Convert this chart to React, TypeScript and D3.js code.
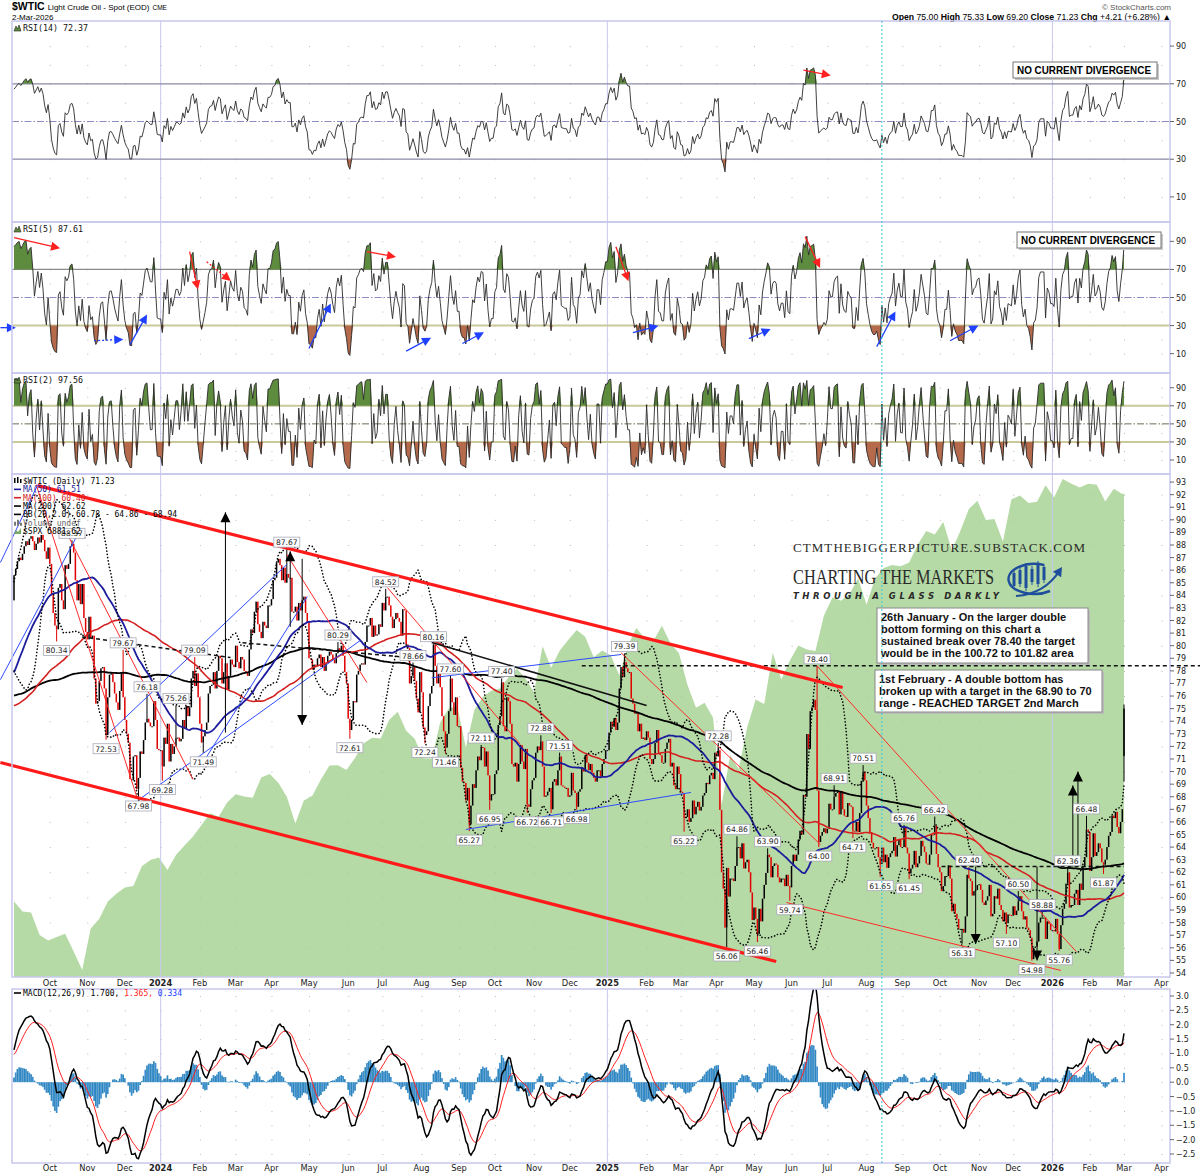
import React from "react";
import * as d3 from "d3";

// ---------------- data ----------------
// 200 sessions before the visible window, only used to warm up MA200 / MACD / RSI
const priorCloses = [
  78.0, 77.2, 78.2, 80.5,
  81.2, 80.0, 76.9, 74.3, 72.0, 72.0, 71.0, 73.2, 75.4, 77.3, 76.1, 74.3, 75.2, 75.2, 78.3, 77.5, 79.6, 79.6, 79.5, 78.4, 78.9, 80.3,
  80.3, 76.9, 72.8, 73.7, 73.8, 74.6, 75.1, 77.4, 78.4, 79.9, 79.9, 80.2, 79.5, 80.6, 81.3, 81.6, 80.1, 80.2, 81.0, 79.7, 77.9, 78.9,
  76.4, 75.9, 73.4, 74.1, 77.1, 78.5, 78.0, 79.7, 80.0, 79.1, 78.6, 78.2, 76.3, 76.3, 76.2, 73.9, 74.0, 76.3, 75.7, 76.4,
  77.0, 78.2, 79.7, 80.5, 77.6, 76.7, 75.7, 76.7, 74.8, 71.3, 67.6, 68.4, 66.7, 67.6, 69.3, 69.9, 70.0, 72.8, 73.2, 73.0, 73.2, 74.4, 75.7,
  80.4, 80.7, 80.6, 80.7, 80.7, 79.7, 81.5, 83.3, 83.0, 82.5, 80.8, 80.9, 79.2, 77.4, 77.9, 77.9, 77.1, 74.3, 74.8, 76.8,
  75.7, 71.7, 68.6, 68.6, 71.3, 73.2, 73.7, 72.6, 72.6, 70.0, 71.1, 70.9, 72.8, 71.9, 71.7, 72.9, 73.9, 72.8, 71.8, 72.7, 72.7, 69.5, 68.1,
  70.1, 71.7, 72.2, 71.7, 72.5, 70.3, 70.2, 67.1, 69.4, 68.3, 70.6, 71.8, 71.8, 71.9, 70.5, 72.5, 69.2, 69.4, 69.4, 67.7, 69.6, 70.6,
  69.8, 69.8, 71.8, 71.8, 73.9, 73.0, 74.8, 75.8, 76.9, 75.4, 74.2, 75.8, 75.4, 75.6, 77.1, 78.7, 79.6, 78.8, 80.1, 80.6, 81.8,
  81.4, 79.5, 81.6, 82.8, 81.9, 80.8, 82.9, 84.4, 82.8, 83.2, 82.5, 81.0, 79.4, 81.3, 80.7, 80.1, 78.9, 79.1, 79.8, 80.0, 81.2, 81.6, 83.6,
];

// daily closes, one per weekday from 1-Sep-2023
const closes2023 = [
  85.6, 86.1, 86.7, 87.0, 86.8, 87.3, 87.9, 88.3, 88.0, 88.5, 88.7, 88.3, 87.6, 88.1, 88.6, 88.2, 88.8, 88.4, 87.5, 86.9, 87.8,
  86.5, 84.0, 82.6, 81.6, 81.3, 84.6, 84.9, 83.6, 82.9, 86.4, 86.1, 86.5, 87.9, 88.1, 87.4, 85.2, 83.6, 84.9, 83.3, 84.9, 82.2, 81.1,
  80.5, 82.3, 80.6, 80.8, 77.4, 75.4, 75.6, 77.2, 78.2, 78.3, 76.6, 72.9, 75.9, 77.7, 77.8, 77.1, 76.2, 75.5, 74.9, 76.4, 77.9, 75.9,
  74.1, 73.0, 72.3, 69.4, 69.3, 71.2, 71.3, 68.6, 69.5, 71.6, 71.4, 72.5, 73.9, 74.2, 73.9, 73.6, 73.6, 75.6, 74.1, 71.8, 71.7,
];
const closes2024 = [
  71.7, 70.4, 72.7, 72.2, 73.8, 70.8, 72.2, 71.4, 72.0, 72.7, 72.7, 72.4, 72.6, 74.1, 73.4, 75.2, 74.4, 75.1, 77.4, 78.0, 76.8, 77.8, 75.9,
  73.8, 72.3, 72.8, 73.3, 73.9, 76.2, 76.8, 76.9, 77.9, 76.6, 78.0, 79.2, 79.0, 77.0, 77.9, 78.6, 76.5, 77.6, 78.9, 78.5, 78.3,
  80.0, 78.7, 78.2, 79.1, 78.9, 78.0, 77.9, 77.6, 79.7, 81.3, 81.0, 82.7, 83.5, 81.7, 81.1, 80.6, 81.9, 81.6, 81.4, 83.2, 83.2,
  83.7, 85.2, 85.4, 86.6, 86.9, 86.4, 85.2, 86.2, 85.0, 85.7, 85.4, 85.4, 82.7, 82.7, 83.1, 82.0, 83.4, 82.8, 83.6, 83.9, 82.6, 81.9,
  79.0, 78.9, 78.1, 78.5, 78.4, 79.0, 79.3, 78.3, 79.1, 78.0, 78.6, 79.2, 79.5, 79.3, 78.9, 78.6, 79.4, 79.8, 79.6, 80.0, 79.2, 77.9, 77.0,
  74.2, 73.3, 74.1, 75.6, 75.5, 77.7, 78.0, 78.5, 78.6, 78.5, 80.3, 81.6, 81.6, 82.2, 80.7, 81.6, 80.8, 80.9, 81.7, 81.5,
  83.4, 82.8, 83.9, 83.9, 83.2, 82.3, 81.4, 82.1, 82.6, 82.2, 81.9, 80.8, 82.9, 82.8, 80.1, 79.8, 77.0, 77.6, 78.3, 77.2, 75.8, 74.7, 77.9,
  76.3, 73.5, 72.9, 73.2, 75.2, 76.2, 76.8, 80.1, 78.4, 77.0, 78.2, 76.7, 74.4, 73.2, 71.9, 73.0, 74.8, 77.4, 75.5, 74.5, 75.9, 73.6,
  73.6, 70.3, 69.2, 69.1, 67.7, 68.7, 65.8, 67.3, 69.0, 68.7, 70.1, 71.2, 70.9, 71.95, 71.9, 70.4, 71.6, 69.7, 67.7, 68.2, 68.2,
  69.8, 70.1, 73.7, 74.4, 77.1, 73.6, 73.2, 75.9, 75.6, 73.8, 70.6, 70.4, 70.7, 69.2, 70.6, 72.1, 70.8, 70.2, 71.8, 67.4, 67.2, 68.6, 69.3,
  69.5, 71.5, 72.0, 71.7, 72.4, 70.4, 68.0, 68.1, 68.4, 68.7, 67.0, 69.2, 69.4, 68.9, 70.1, 71.2, 68.9, 68.8, 68.7, 68.7, 68.0,
  68.1, 69.9, 68.5, 68.3, 67.2, 68.4, 68.6, 70.3, 70.0, 71.3, 70.7, 70.1, 70.6, 69.9, 69.5, 69.2, 70.1, 70.1, 69.6, 70.6, 71.0, 71.7,
];
const closes2025 = [
  71.7, 73.1, 73.96, 73.56, 74.25, 73.3, 73.9, 76.6, 78.3, 77.5, 78.7, 78.2, 77.9, 77.9, 75.8, 75.4, 74.6, 74.7, 73.2, 73.8, 72.6, 72.7, 72.5,
  73.2, 72.7, 71.0, 70.6, 71.0, 72.3, 73.3, 71.4, 71.3, 70.7, 70.7, 71.8, 72.3, 72.6, 70.4, 70.7, 68.9, 68.6, 70.4, 69.8,
  68.4, 68.3, 66.3, 66.4, 67.0, 66.0, 66.3, 67.7, 66.6, 67.2, 67.6, 66.9, 67.2, 68.1, 68.3, 69.1, 69.0, 69.7, 69.9, 69.4, 71.5,
  71.2, 71.7, 66.95, 62.0, 60.7, 57.6, 62.35, 60.07, 61.5, 61.5, 61.3, 62.5, 64.0, 64.0, 63.1, 64.3, 62.3, 62.8, 63.0, 62.0, 60.4, 58.2,
  59.2, 58.3, 57.1, 59.1, 58.1, 59.9, 61.0, 61.95, 63.4, 63.2, 61.6, 62.5, 62.7, 62.6, 61.6, 61.2, 61.5, 61.5, 60.9, 61.8, 60.9, 60.8,
  62.5, 63.4, 62.9, 63.4, 64.6, 65.3, 65.0, 68.15, 68.0, 72.98, 71.8, 74.8, 75.1, 75.7, 74.9, 68.5, 64.4, 64.9, 65.2, 65.5, 65.1,
  65.45, 67.45, 67.0, 67.0, 68.0, 68.3, 68.4, 66.6, 68.45, 67.0, 66.5, 66.4, 67.5, 67.3, 67.2, 65.3, 65.25, 66.0, 65.2, 66.7, 69.2, 70.0, 69.3,
  67.3, 66.3, 65.2, 64.35, 63.9, 63.9, 64.0, 63.2, 62.65, 63.96, 62.8, 63.4, 62.35, 63.2, 63.5, 63.7, 64.8, 63.25, 64.15, 64.6, 64.0,
  64.0, 65.6, 63.97, 63.5, 61.9, 62.3, 62.6, 63.7, 62.4, 62.7, 63.3, 64.5, 64.05, 63.6, 62.7, 62.6, 63.4, 64.99, 64.98, 65.7, 63.45, 62.4,
  62.0, 60.5, 60.9, 61.7, 61.7, 62.55, 61.5, 58.9, 59.5, 58.7, 58.3, 57.5, 57.5, 57.5, 57.2, 58.5, 61.8, 61.5, 61.3, 60.15, 60.5, 60.6, 60.98,
  61.05, 60.6, 59.6, 59.4, 59.75, 60.1, 61.0, 58.5, 58.7, 60.1, 59.9, 60.7, 59.4, 59.0, 58.1, 58.8, 57.95, 58.65, 58.6, 58.55,
  59.3, 58.6, 58.95, 59.7, 60.1, 58.9, 58.25, 58.5, 57.6, 57.4, 56.8, 55.1, 56.0, 56.1, 56.5, 58.0, 58.4, 58.4, 58.4, 56.7, 58.1, 57.9, 57.4,
];
const closes2026 = [
  57.4, 57.3, 58.3, 57.1, 55.9, 57.8, 59.1, 59.5, 61.1, 62.0, 59.2, 59.4, 59.4, 60.3, 60.6, 59.4, 61.1, 60.6, 62.4, 63.2, 65.4, 65.2,
  62.1, 63.2, 65.1, 63.3, 63.6, 64.3, 63.9, 62.8, 62.6, 63.0, 64.0, 64.9, 65.2, 66.5, 66.3, 66.8, 65.6, 65.1, 66.0, 67.02,
  71.23,
];
const lastBar = { open: 75.0, high: 75.33, low: 69.2, close: 71.23 };

// S&P 500 overlay, weekly (Fridays) from 1-Sep-2023, then 2-Mar-2026
const spxWeekly = [
  4515, 4457, 4450, 4320, 4288, 4308, 4327, 4224, 4117, 4358, 4415, 4514, 4559, 4595, 4604, 4719, 4755, 4770,
  4697, 4784, 4840, 4891, 4959, 5027, 5006, 5089, 5137, 5124, 5117, 5234, 5254, 5204, 5123, 4967, 5100, 5128, 5223, 5303, 5305, 5278,
  5347, 5431, 5465, 5460, 5567, 5615, 5505, 5459, 5346, 5344, 5554, 5634, 5648, 5408, 5626, 5703, 5738, 5751, 5815, 5865, 5808, 5729,
  5996, 5871, 5969, 6032, 6090, 6051, 5931, 5971,
  5942, 5827, 5997, 6101, 6041, 6026, 6115, 6013, 5955, 5770, 5639, 5667, 5581, 5074, 5363, 5283, 5525, 5687, 5660, 5958, 5803, 5912,
  6000, 5977, 5968, 6173, 6279, 6260, 6297, 6389, 6238, 6389, 6450, 6467, 6460, 6482, 6584, 6664, 6644, 6716, 6553, 6664, 6792, 6840,
  6728, 6734, 6603, 6849, 6870, 6827, 6834, 6930,
  6858, 6966, 6940, 6916, 6939, 6932, 6836, 6909, 6879,
];
const spxLast = 6881.62;

// swing labels (intraday extremes)
const highLabels: [string, number][] = [
  ["2023-10-19", 88.37], ["2023-11-30", 79.67], ["2023-12-20", 76.18], ["2024-01-12", 75.26], ["2024-01-29", 79.09],
  ["2024-04-12", 87.67], ["2024-05-24", 80.29], ["2024-07-03", 84.52], ["2024-07-25", 78.66], ["2024-08-12", 80.16],
  ["2024-08-26", 77.6], ["2024-09-19", 72.11], ["2024-10-07", 77.4], ["2024-11-07", 72.88], ["2024-11-22", 71.51],
  ["2025-01-15", 79.39], ["2025-04-02", 72.28], ["2025-04-17", 64.86], ["2025-05-13", 63.9], ["2025-06-23", 78.4],
  ["2025-07-07", 68.91], ["2025-07-30", 70.51], ["2025-09-02", 65.76], ["2025-09-26", 66.42], ["2025-10-24", 62.4],
  ["2025-12-04", 60.5], ["2025-12-24", 58.88], ["2026-01-14", 62.36], ["2026-01-29", 66.48],
];
const lowLabels: [string, number][] = [
  ["2023-10-06", 80.34], ["2023-11-16", 72.53], ["2023-12-13", 67.98], ["2024-01-02", 69.28], ["2024-02-05", 71.49],
  ["2024-06-04", 72.61], ["2024-08-05", 72.24], ["2024-08-21", 71.46], ["2024-09-10", 65.27], ["2024-09-26", 66.95],
  ["2024-10-28", 66.72], ["2024-11-15", 66.71], ["2024-12-06", 66.98], ["2025-03-05", 65.22], ["2025-04-09", 56.06],
  ["2025-05-05", 56.46], ["2025-05-30", 59.74], ["2025-06-24", 64.0], ["2025-07-22", 64.71], ["2025-08-13", 61.65],
  ["2025-09-05", 61.45], ["2025-10-20", 56.31], ["2025-11-25", 57.1], ["2025-12-16", 54.98], ["2026-01-07", 55.76],
  ["2026-02-12", 61.87],
];

type Pt = [string, number];
const redThickLines: [Pt, Pt][] = [
  [["2023-09-21", 92.72], ["2025-07-14", 76.68]],
  [["2023-08-22", 70.72], ["2025-05-20", 54.91]],
];
const redThinLines: [Pt, Pt][] = [
  [["2023-09-20", 92.8], ["2023-12-12", 68.0]],
  [["2023-10-17", 88.67], ["2024-01-26", 69.37]],
  [["2024-04-12", 87.24], ["2024-06-18", 77.07]],
  [["2024-07-04", 84.62], ["2024-10-22", 72.15]],
  [["2025-01-13", 79.44], ["2025-06-25", 64.2]],
  [["2025-06-23", 78.4], ["2026-01-21", 55.7]],
  [["2025-05-28", 59.6], ["2026-01-08", 54.2]],
];
const blueThinLines: [Pt, Pt][] = [
  [["2023-08-22", 86.6], ["2023-09-21", 92.8]],
  [["2023-08-22", 77.3], ["2023-10-25", 89.0]],
  [["2023-11-20", 73.1], ["2024-04-12", 86.45]],
  [["2023-12-15", 67.94], ["2024-06-12", 80.41]],
  [["2024-02-06", 70.96], ["2024-04-30", 83.9]],
  [["2024-08-09", 77.45], ["2025-01-13", 79.3]],
  [["2024-09-06", 65.4], ["2025-03-11", 68.34]],
];
const blackSolidLines: [Pt, Pt][] = [[["2024-08-09", 80.25], ["2025-02-03", 75.25]]];
const blackDashedLines: [Pt, Pt][] = [
  [["2023-10-27", 80.7], ["2024-02-27", 79.06]],
  [["2024-03-07", 80.24], ["2024-07-15", 79.13]],
  [["2024-12-11", 78.4], ["2026-05-04", 78.4]],
  [["2025-10-02", 62.45], ["2026-03-02", 62.45]],
];
// vertical measuring arrows: date, from price, to price (head at "to")
const priceArrows: [string, number, number][] = [
  ["2024-02-22", 73.1, 90.6], ["2024-04-16", 81.5, 87.5], ["2024-04-25", 86.9, 73.7],
  ["2025-10-30", 62.45, 56.3], ["2025-12-19", 62.45, 55.0], ["2026-01-19", 62.45, 68.9], ["2026-01-22", 62.45, 70.0],
];
type Div = { a: Pt; b: Pt; c: string; dot?: boolean };
const rsi14Divs: Div[] = [{ a: ["2025-06-11", 77.2], b: ["2025-06-27", 75.1], c: "red" }];
const rsi5Divs: Div[] = [
  { a: ["2023-09-01", 92.6], b: ["2023-10-04", 86.2], c: "red" },
  { a: ["2023-08-22", 28.5], b: ["2023-08-29", 28.5], c: "blue" },
  { a: ["2023-11-07", 19.2], b: ["2023-11-24", 19.9], c: "blue", dot: true },
  { a: ["2023-12-06", 16.4], b: ["2023-12-18", 33.5], c: "blue" },
  { a: ["2024-01-24", 82.7], b: ["2024-01-30", 60.6], c: "red" },
  { a: ["2024-02-07", 75.5], b: ["2024-02-22", 64.9], c: "red", dot: true },
  { a: ["2024-05-01", 13.6], b: ["2024-05-16", 41.3], c: "blue" },
  { a: ["2024-06-18", 82.7], b: ["2024-07-05", 79.8], c: "red" },
  { a: ["2024-07-19", 11.8], b: ["2024-08-05", 18.9], c: "blue" },
  { a: ["2024-09-04", 17.2], b: ["2024-09-17", 22.9], c: "blue" },
  { a: ["2025-01-08", 86.2], b: ["2025-01-16", 66.3], c: "red" },
  { a: ["2025-01-22", 25.0], b: ["2025-02-06", 28.6], c: "blue" },
  { a: ["2025-04-28", 20.7], b: ["2025-05-09", 25.6], c: "blue" },
  { a: ["2025-06-12", 93.4], b: ["2025-06-23", 75.6], c: "red" },
  { a: ["2025-08-11", 15.0], b: ["2025-08-22", 35.7], c: "blue" },
  { a: ["2025-10-09", 19.2], b: ["2025-10-28", 27.7], c: "blue" },
];

const mainLegend = [
  { text: "$WTIC (Daily) 71.23", color: "#000", icon: "candle" },
  { text: "MA(50) 61.51", color: "#1c1c9c", icon: "line" },
  { text: "MA(100) 60.40", color: "#d42020", icon: "line" },
  { text: "MA(200) 62.62", color: "#000", icon: "line" },
  { text: "BB(20,2.0) 60.78 - 64.86 - 68.94", color: "#000", icon: "line" },
  { text: "Volume undef", color: "#666", icon: "bars" },
  { text: "$SPX 6881.62", color: "#000", icon: "area" },
];
const note1 = [
  "26th January - On the larger double",
  "bottom forming on this chart a",
  "sustained break over 78.40 the target",
  "would be in the 100.72 to 101.82 area",
];
const note2 = [
  "1st February - A double bottom has",
  "broken up with a target in the 68.90 to 70",
  "range - REACHED TARGET 2nd March",
];
const markerDate = "2025-08-14";
const monthNames = ["Jan", "Feb", "Mar", "Apr", "May", "Jun", "Jul", "Aug", "Sep", "Oct", "Nov", "Dec"];

// ---------------- helpers ----------------
const DAY = 86400000;
const START_MS = Date.UTC(2023, 8, 1);
const offCache: Record<string, number> = {};
function weekdayOffset(s: string): number {
  if (offCache[s] !== undefined) return offCache[s];
  const t = Date.parse(s + "T00:00:00Z");
  const step = t >= START_MS ? 1 : -1;
  let n = 0;
  for (let c = START_MS; c !== t; ) {
    c += step * DAY;
    const wd = new Date(c).getUTCDay();
    if (wd !== 0 && wd !== 6) n += step;
  }
  offCache[s] = n;
  return n;
}
function sma(a: number[], n: number) {
  return a.map((_, i) => (i < n - 1 ? null : (d3.mean(a.slice(i - n + 1, i + 1)) as number)));
}
function ema(a: number[], n: number) {
  const k = 2 / (n + 1);
  let e = a[0];
  return a.map((v, i) => (e = i === 0 ? v : v * k + e * (1 - k)));
}
function rsi(a: number[], n: number) {
  const out: (number | null)[] = a.map(() => null);
  let g = 0, l = 0;
  for (let i = 1; i <= n; i++) {
    const d = a[i] - a[i - 1];
    if (d > 0) g += d; else l -= d;
  }
  g /= n; l /= n;
  out[n] = l === 0 ? 100 : 100 - 100 / (1 + g / l);
  for (let i = n + 1; i < a.length; i++) {
    const d = a[i] - a[i - 1];
    g = (g * (n - 1) + Math.max(d, 0)) / n;
    l = (l * (n - 1) + Math.max(-d, 0)) / n;
    out[i] = l === 0 ? 100 : 100 - 100 / (1 + g / l);
  }
  return out;
}
function head(x1: number, y1: number, x2: number, y2: number, len = 8, half = 4) {
  const a = Math.atan2(y2 - y1, x2 - x1);
  const bx = x2 - len * Math.cos(a), by = y2 - len * Math.sin(a);
  const px = -Math.sin(a) * half, py = Math.cos(a) * half;
  return `${x2},${y2} ${bx + px},${by + py} ${bx - px},${by - py}`;
}

const FRAME = "#c8c8ee";
const GRID = "#b9b9b9";
const AX = "DejaVu Sans, Verdana, sans-serif";
const MONO = "DejaVu Sans Mono, monospace";
const ARIAL = "Liberation Sans, Arial, sans-serif";

export default function App() {
  const all = [...priorCloses, ...closes2023, ...closes2024, ...closes2025, ...closes2026];
  const P = priorCloses.length;
  const close = all.slice(P);
  const N = close.length;
  const idx = d3.range(N);
  const x = d3.scaleLinear().domain([0, N - 1]).range([14, 1124]);
  const xd = (s: string) => x(weekdayOffset(s));

  const yMain = d3.scaleLinear().domain([53.68, 93.64]).range([977, 474]);
  const yR14 = d3.scaleLinear().domain([-3.3, 103.3]).range([222, 21]);
  const yR5 = d3.scaleLinear().domain([-3.8, 103.8]).range([373, 222]);
  const yR2 = d3.scaleLinear().domain([-5.5, 106.3]).range([474, 373]);
  const yM = d3.scaleLinear().domain([-2.813, 3.244]).range([1163, 989]);

  const spxPts: [number, number][] = [...spxWeekly.map((v, k) => [k * 5, v] as [number, number]), [N - 1, spxLast]];
  const ySpx = d3.scaleLinear().domain(d3.extent(spxPts, (d) => d[1]) as [number, number]).range([970, 479]);

  // indicators
  const ma50 = sma(all, 50).slice(P);
  const ma100 = sma(all, 100).slice(P);
  const ma200 = sma(all, 200).slice(P);
  const bbU: (number | null)[] = [], bbL: (number | null)[] = [];
  all.forEach((_, i) => {
    if (i < 19) { bbU.push(null); bbL.push(null); return; }
    const w = all.slice(i - 19, i + 1);
    const m = d3.mean(w) as number;
    const sd = Math.sqrt(d3.mean(w, (v) => (v - m) ** 2) as number);
    bbU.push(m + 2 * sd); bbL.push(m - 2 * sd);
  });
  const bbUp = bbU.slice(P), bbLo = bbL.slice(P);
  const e12 = ema(all, 12), e26 = ema(all, 26);
  const macdAll = all.map((_, i) => e12[i] - e26[i]);
  const sigAll = ema(macdAll, 9);
  const macd = macdAll.slice(P), sig = sigAll.slice(P);
  const hist = macd.map((m, i) => m - sig[i]);
  const r14 = rsi(all, 14).slice(P), r5 = rsi(all, 5).slice(P), r2 = rsi(all, 2).slice(P);

  const lineOf = (y: any) =>
    d3.line<number | null>().defined((v) => v != null).x((_, i) => x(i)).y((v) => y(v as number));

  // month ticks
  const months: { s: string; label: string; year: boolean }[] = [];
  for (let k = 0; k < 31; k++) {
    const yr = 2023 + Math.floor((9 + k) / 12), m = (9 + k) % 12;
    let d = new Date(Date.UTC(yr, m, 1));
    while (d.getUTCDay() === 0 || d.getUTCDay() === 6) d = new Date(d.getTime() + DAY);
    months.push({ s: d.toISOString().slice(0, 10), label: m === 0 ? String(yr) : monthNames[m], year: m === 0 });
  }
  const inPlot = months.filter((m) => xd(m.s) < 1168);
  const yearXs = ["2024-01-01", "2025-01-01", "2026-01-01"].map(xd);
  const markerX = xd(markerDate);

  const dots = (levels: number[], y: any, key: string) =>
    inPlot.flatMap((m) => levels.map((lv) => <rect key={key + m.s + lv} x={xd(m.s)} y={y(lv)} width={1} height={1} fill={GRID} />));

  const rightAxis = (ticks: number[], y: any, fmt: (v: number) => string, key: string) =>
    ticks.map((t) => (
      <g key={key + t}>
        <line x1={1170} x2={1174} y1={y(t)} y2={y(t)} stroke="#666" />
        <text x={1176} y={y(t) + 3} fontSize={8} fontFamily={AX} fill="#222">{fmt(t)}</text>
      </g>
    ));

  const rsiPanel = (
    key: string, vals: (number | null)[], y: any, top: number, bottom: number, title: string,
    c70: string, c30: string, c50: string, w3070: number, divs: Div[]
  ) => {
    const aUp = d3.area<number | null>().defined((v) => v != null).x((_, i) => x(i)).y0(y(70)).y1((v) => y(Math.max(v as number, 70)));
    const aDn = d3.area<number | null>().defined((v) => v != null).x((_, i) => x(i)).y0(y(30)).y1((v) => y(Math.min(v as number, 30)));
    return (
      <g key={key}>
        {dots([10, 20, 30, 40, 50, 60, 70, 80, 90], y, key)}
        {yearXs.map((yx) => <line key={key + yx} x1={yx} x2={yx} y1={top} y2={bottom} stroke={FRAME} />)}
        <line x1={12} x2={1170} y1={y(70)} y2={y(70)} stroke={c70} strokeWidth={w3070} />
        <line x1={12} x2={1170} y1={y(30)} y2={y(30)} stroke={c30} strokeWidth={w3070 + (c30 === c70 ? 0 : 0.8)} />
        <line x1={12} x2={1170} y1={y(50)} y2={y(50)} stroke={c50} strokeDasharray="7,2,1.5,2" />
        <path d={aUp(vals) || ""} fill="#5e8c3e" />
        <path d={aDn(vals) || ""} fill="#b46a4b" />
        <path d={lineOf(y)(vals) || ""} fill="none" stroke="#2a2a2a" strokeWidth={0.9} />
        {divs.map((dv, i) => {
          const x1 = xd(dv.a[0]), y1 = y(dv.a[1]), x2 = xd(dv.b[0]), y2 = y(dv.b[1]);
          const col = dv.c === "red" ? "#ff2020" : "#2040ff";
          const a = Math.atan2(y2 - y1, x2 - x1);
          const tx = x2 + 7 * Math.cos(a), ty = y2 + 7 * Math.sin(a);
          return (
            <g key={key + "d" + i}>
              <line x1={x1} y1={y1} x2={x2} y2={y2} stroke={col} strokeWidth={1.3} strokeDasharray={dv.dot ? "2,2" : undefined} />
              <polygon points={head(x2, y2, tx, ty, 9, 4.5)} fill={col} />
            </g>
          );
        })}
        <rect x={12} y={top} width={1158} height={bottom - top} fill="none" stroke={FRAME} strokeWidth={1.5} />
        <g transform={`translate(14,${top + 3})`}>
          <path d="M0,7 L2,2 L3.5,5 L5,1 L7,7 Z" fill="#5e8c3e" stroke="#222" strokeWidth={0.6} />
        </g>
        <text x={23} y={top + 9.5} fontSize={8.3} fontFamily={MONO} fill="#111">{title}</text>
        {rightAxis([10, 30, 50, 70, 90], y, (v) => String(v), key + "ax")}
      </g>
    );
  };

  // candles
  const candleEls = idx.map((i) => {
    const isLast = i === N - 1;
    const o = isLast ? lastBar.open : i === 0 ? all[P - 1] : close[i - 1];
    const c = close[i];
    const prev = i === 0 ? all[P - 1] : close[i - 1];
    const col = c >= prev ? "#000" : "#e00000";
    const y1 = yMain(Math.max(o, c)), y2 = yMain(Math.min(o, c));
    return (
      <g key={"c" + i}>
        {isLast && <line x1={x(i)} x2={x(i)} y1={yMain(lastBar.high)} y2={yMain(lastBar.low)} stroke={col} />}
        <rect x={x(i) - 0.75} y={y1} width={1.5} height={Math.max(1, y2 - y1)} fill={col} />
      </g>
    );
  });
  const wick = (d: string, v: number, key: string) => {
    const i = weekdayOffset(d);
    const o = i === 0 ? all[P - 1] : close[i - 1];
    const c = close[i];
    const col = c >= o ? "#000" : "#e00000";
    const edge = v > c ? Math.max(o, c) : Math.min(o, c);
    return <line key={key} x1={x(i)} x2={x(i)} y1={yMain(v)} y2={yMain(edge)} stroke={col} strokeWidth={1} />;
  };
  const labelBox = (d: string, v: number, above: boolean, key: string) => {
    const cx = xd(d), cy = yMain(v) + (above ? -7 : 9);
    const t = v.toFixed(2);
    const w = t.length * 4.6 + 3;
    return (
      <g key={key}>
        <rect x={cx - w / 2} y={cy - 5} width={w} height={10} fill="#fff" stroke="#a9a9b9" strokeWidth={0.8} />
        <text x={cx} y={cy + 3} textAnchor="middle" fontSize={7.6} fontFamily={AX} fill="#222">{t}</text>
      </g>
    );
  };
  const seg = (l: [Pt, Pt], key: string, stroke: string, w: number, dash?: string) => (
    <line key={key} x1={xd(l[0][0])} y1={yMain(l[0][1])} x2={xd(l[1][0])} y2={yMain(l[1][1])} stroke={stroke} strokeWidth={w} strokeDasharray={dash} />
  );

  const spxArea = d3.area<[number, number]>().x((d) => x(d[0])).y0(977).y1((d) => ySpx(d[1]));
  const prevClose = close[N - 2];
  const chg = lastBar.close - prevClose;

  const xLabels = (yy: number, key: string) =>
    months.map((m) => (
      <text key={key + m.s} x={xd(m.s)} y={yy} textAnchor="middle" fontSize={8.3} fontWeight={m.year ? "bold" : "normal"} fontFamily={AX} fill="#222">
        {m.label}
      </text>
    ));

  return (
    <svg width={1200} height={1175} style={{ position: "absolute", left: 0, top: 0, background: "#fff" }} xmlns="http://www.w3.org/2000/svg">
      <defs>
        <clipPath id="mainClip"><rect x={12} y={474} width={1158} height={503} /></clipPath>
        <clipPath id="macdClip"><rect x={12} y={989} width={1158} height={174} /></clipPath>
      </defs>
      <rect width={1200} height={1175} fill="#fff" />

      {/* header */}
      <text x={12} y={10} fontFamily={ARIAL} fontSize={8} fill="#000">
        <tspan fontWeight="bold" fontSize={10.5}>$WTIC</tspan>
        <tspan dx={3}>Light Crude Oil - Spot (EOD)</tspan>
        <tspan dx={3} fontSize={6.5}>CME</tspan>
      </text>
      <text x={12} y={19.5} fontFamily={ARIAL} fontSize={8}>2-Mar-2026</text>
      <text x={1171} y={10} textAnchor="end" fontFamily={ARIAL} fontSize={8} fill="#555">© StockCharts.com</text>
      <text x={1171} y={19.5} textAnchor="end" fontFamily={ARIAL} fontSize={8.7} fill="#000">
        <tspan fontWeight="bold">Open</tspan>{` ${lastBar.open.toFixed(2)}  `}
        <tspan fontWeight="bold">High</tspan>{` ${lastBar.high.toFixed(2)}  `}
        <tspan fontWeight="bold">Low</tspan>{` ${lastBar.low.toFixed(2)}  `}
        <tspan fontWeight="bold">Close</tspan>{` ${lastBar.close.toFixed(2)}  `}
        <tspan fontWeight="bold">Chg</tspan>{` +${chg.toFixed(2)} (+${((chg / prevClose) * 100).toFixed(2)}%) ▲`}
      </text>

      {rsiPanel("r14", r14, yR14, 21, 222, "RSI(14) 72.37", "#8a8aa6", "#8a8aa6", "#8c8cc0", 1.2, rsi14Divs)}
      {rsiPanel("r5", r5, yR5, 222, 373, "RSI(5) 87.61", "#8a8a8a", "#c9c99c", "#8c8cc0", 1.2, rsi5Divs)}
      {rsiPanel("r2", r2, yR2, 373, 474, "RSI(2) 97.56", "#c9c99c", "#c9c99c", "#6d6d55", 2, [])}

      {/* divergence boxes */}
      {[[1013, 62], [1017, 232]].map(([bx, by], i) => (
        <g key={"nd" + i}>
          <rect x={bx + 2} y={by + 2} width={144} height={16} fill="#c8c8c8" />
          <rect x={bx} y={by} width={144} height={16} fill="#fff" stroke="#777" />
          <text x={bx + 4} y={by + 12} fontFamily={ARIAL} fontWeight="bold" fontSize={10} textLength={134} lengthAdjust="spacingAndGlyphs">NO CURRENT DIVERGENCE</text>
        </g>
      ))}

      {/* main panel */}
      <path d={spxArea(spxPts) || ""} fill="#b5daa5" />
      {dots(d3.range(54, 93, 2), yMain, "m")}
      {yearXs.map((yx) => <line key={"my" + yx} x1={yx} x2={yx} y1={474} y2={977} stroke={FRAME} />)}
      <g clipPath="url(#mainClip)">
        {candleEls}
        {highLabels.map(([d, v], i) => wick(d, v, "wh" + i))}
        {lowLabels.map(([d, v], i) => wick(d, v, "wl" + i))}
        <path d={lineOf(yMain)(ma200) || ""} fill="none" stroke="#000" strokeWidth={1.8} />
        <path d={lineOf(yMain)(ma100) || ""} fill="none" stroke="#d42020" strokeWidth={1.6} />
        <path d={lineOf(yMain)(ma50) || ""} fill="none" stroke="#1c1c9c" strokeWidth={1.8} />
        <path d={lineOf(yMain)(bbUp) || ""} fill="none" stroke="#000" strokeWidth={1.6} strokeDasharray="0.1,3.2" strokeLinecap="round" />
        <path d={lineOf(yMain)(bbLo) || ""} fill="none" stroke="#000" strokeWidth={1.6} strokeDasharray="0.1,3.2" strokeLinecap="round" />
      </g>
      {redThinLines.map((l, i) => seg(l, "rt" + i, "#ff2a2a", 1))}
      {blueThinLines.map((l, i) => seg(l, "bt" + i, "#2f4cff", 1))}
      {blackSolidLines.map((l, i) => seg(l, "ks" + i, "#111", 1.6))}
      {blackDashedLines.map((l, i) => seg(l, "kd" + i, "#111", 1.5, "4,3"))}
      {redThickLines.map((l, i) => seg(l, "rk" + i, "#ff1a1a", 3.2))}
      {priceArrows.map(([d, a, b], i) => {
        const xx = xd(d), y1 = yMain(a), y2 = yMain(b);
        return (
          <g key={"pa" + i}>
            <line x1={xx} x2={xx} y1={y1} y2={y2} stroke="#000" strokeWidth={1} />
            <polygon points={head(xx, y1, xx, y2, 10, 5)} fill="#000" />
          </g>
        );
      })}
      {highLabels.map(([d, v], i) => labelBox(d, v, true, "hl" + i))}
      {lowLabels.map(([d, v], i) => labelBox(d, v, false, "ll" + i))}

      {/* watermark */}
      <text x={793} y={552} fontFamily="Liberation Serif, DejaVu Serif, serif" fontSize={13} fill="#2a2a2a" textLength={292} lengthAdjust="spacing">CTMTHEBIGGERPICTURE.SUBSTACK.COM</text>
      <text x={793} y={584} fontFamily="Liberation Serif, DejaVu Serif, serif" fontSize={20.5} fill="#2a2a2a" textLength={201} lengthAdjust="spacingAndGlyphs">CHARTING THE MARKETS</text>
      <text x={793} y={599} fontFamily={AX} fontStyle="italic" fontWeight="bold" fontSize={8.5} fill="#2a2a2a" textLength={206} lengthAdjust="spacing">THROUGH A GLASS DARKLY</text>
      <g fill="none" stroke="#1f4e9c">
        <path d="M1044,565 A26,15 0 1 0 1050,591" strokeWidth={2.5} />
        <path d="M1016,596 Q1045,594 1060,570" strokeWidth={2.2} />
        <polygon points={head(1050, 585, 1062, 567, 9, 5)} fill="#1f4e9c" stroke="none" />
        {[[1014, 573, 586], [1020, 570, 584], [1026, 566, 588], [1032, 569, 582], [1038, 564, 584], [1044, 567, 580]].map(([cx, a, b], i) => (
          <g key={"lg" + i}>
            <line x1={cx} x2={cx} y1={a - 3} y2={b + 3} strokeWidth={1} />
            <rect x={cx - 1.5} y={a} width={3} height={b - a} fill="#1f4e9c" stroke="none" />
          </g>
        ))}
      </g>

      {/* notes */}
      {[{ lines: note1, x0: 877, y0: 608, w: 211, h: 55 }, { lines: note2, x0: 875, y0: 670, w: 227, h: 42 }].map((b, i) => (
        <g key={"nb" + i}>
          <rect x={b.x0 + 2} y={b.y0 + 2} width={b.w} height={b.h} fill="#bbb" />
          <rect x={b.x0} y={b.y0} width={b.w} height={b.h} fill="#fff" stroke="#888" />
          {b.lines.map((t, j) => (
            <text key={j} x={b.x0 + 4} y={b.y0 + 12.5 + j * 12} fontFamily={ARIAL} fontWeight="bold" fontSize={11} fill="#111">{t}</text>
          ))}
        </g>
      ))}

      <rect x={12} y={474} width={1158} height={503} fill="none" stroke={FRAME} strokeWidth={1.5} />
      {rightAxis(d3.range(54, 94), yMain, (v) => String(v), "max")}

      {/* main legend */}
      {mainLegend.map((it, i) => {
        const yy = 481 + i * 8.35;
        return (
          <g key={"lgd" + i}>
            {it.icon === "line" && <line x1={14} x2={21} y1={yy} y2={yy} stroke={it.color} strokeWidth={1.6} />}
            {it.icon === "candle" && <g><rect x={14} y={yy - 3} width={1.5} height={5} fill="#000" /><rect x={17} y={yy - 4} width={1.5} height={6} fill="#000" /><rect x={20} y={yy - 2} width={1.5} height={4} fill="#000" /></g>}
            {it.icon === "bars" && <g fill="#777"><rect x={14} y={yy - 1} width={2} height={4} /><rect x={17} y={yy - 3} width={2} height={6} /><rect x={20} y={yy} width={2} height={3} /></g>}
            {it.icon === "area" && <path d={`M14,${yy + 3} L16,${yy - 1} L18,${yy + 1} L21,${yy - 3} L21,${yy + 3} Z`} fill="#7aa86a" />}
            <text x={23} y={yy + 3} fontFamily={MONO} fontSize={8} fill={it.color}>{it.text}</text>
          </g>
        );
      })}

      {xLabels(986, "xt")}

      {/* MACD */}
      {dots(d3.range(-2.5, 3.01, 0.5), yM, "md")}
      {yearXs.map((yx) => <line key={"mcy" + yx} x1={yx} x2={yx} y1={989} y2={1163} stroke={FRAME} />)}
      <g clipPath="url(#macdClip)">
        {hist.map((h, i) => (
          <rect key={"h" + i} x={x(i) - 0.85} y={Math.min(yM(0), yM(h))} width={1.7} height={Math.abs(yM(h) - yM(0))} fill={i % 2 ? "#3a8dd0" : "#2f86b8"} />
        ))}
        <path d={lineOf(yM)(sig) || ""} fill="none" stroke="#ff2020" strokeWidth={1} />
        <path d={lineOf(yM)(macd) || ""} fill="none" stroke="#000" strokeWidth={1.5} />
      </g>
      <rect x={12} y={989} width={1158} height={174} fill="none" stroke={FRAME} strokeWidth={1.5} />
      {rightAxis(d3.range(-2.5, 3.01, 0.5), yM, (v) => d3.format(".1f")(v), "mcx")}
      <line x1={14} x2={21} y1={993} y2={993} stroke="#000" strokeWidth={1.6} />
      <text x={23} y={996} fontFamily={MONO} fontSize={8} fill="#000">
        MACD(12,26,9) 1.700,<tspan fill="#ff2020"> 1.365,</tspan><tspan fill="#2040ff"> 0.334</tspan>
      </text>
      {xLabels(1171, "xb")}

      {/* date marker */}
      <line x1={markerX} x2={markerX} y1={21} y2={1163} stroke="#3cc8dc" strokeDasharray="2,2" strokeWidth={1} />
    </svg>
  );
}
